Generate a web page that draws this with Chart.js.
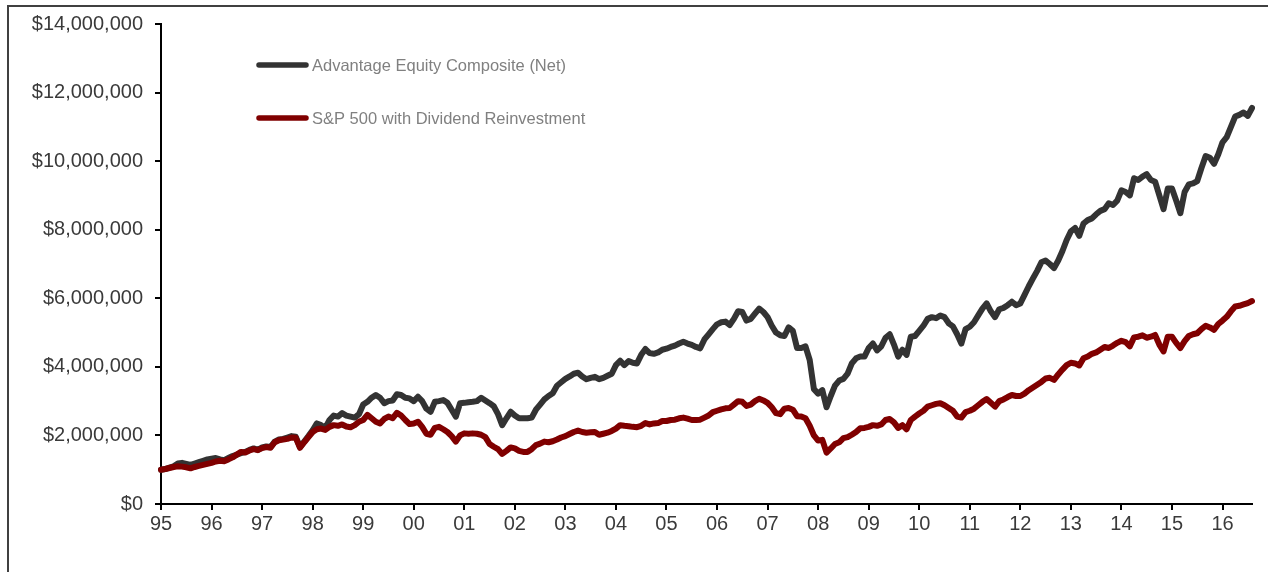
<!DOCTYPE html>
<html>
<head>
<meta charset="utf-8">
<script src="https://cdn.jsdelivr.net/npm/chart.js@4/dist/chart.umd.min.js"></script>
<style>
  html, body { margin: 0; padding: 0; background: #fff; overflow: hidden; }
  #wrap { position: relative; width: 1268px; height: 572px; overflow: hidden; }
  #frame { position: absolute; left: 7px; top: 5px; width: 1320px; height: 640px;
           border: 2px solid #404040; box-sizing: border-box; }
  #c { position: absolute; left: 0; top: 0; }
</style>
</head>
<body>
<div id="wrap">
  <div id="frame"></div>
  <canvas id="c" width="1268" height="572"></canvas>
</div>
<script>
// Growth of $1,000,000, month-end values in $ millions (Dec 1995 - Jul 2017)
const advantage = [
  1.00, 1.02, 1.06, 1.10, 1.18, 1.20, 1.17, 1.14, 1.18, 1.22, 1.26, 1.30,
  1.32, 1.34, 1.30, 1.28, 1.34, 1.40, 1.44, 1.48, 1.52, 1.58, 1.62, 1.58,
  1.65, 1.68, 1.66, 1.82, 1.88, 1.90, 1.94, 1.98, 1.96, 1.66, 1.82, 1.98,
  2.15, 2.35, 2.30, 2.22, 2.45, 2.58, 2.55, 2.65, 2.58, 2.55, 2.52, 2.62,
  2.90, 2.98, 3.10, 3.18, 3.10, 2.94, 3.00, 3.02, 3.20, 3.18, 3.10, 3.08,
  3.00, 3.13, 3.00, 2.78, 2.69, 2.98, 3.00, 3.03, 2.95, 2.75, 2.55, 2.94,
  2.95, 2.97, 2.98, 3.00, 3.10, 3.02, 2.94, 2.85, 2.62, 2.30, 2.50, 2.69,
  2.58, 2.50, 2.50, 2.50, 2.52, 2.75, 2.90, 3.05, 3.15, 3.23, 3.45, 3.55,
  3.65, 3.72, 3.80, 3.83, 3.72, 3.64, 3.68, 3.71, 3.64, 3.68, 3.74, 3.80,
  4.05, 4.18, 4.05, 4.17, 4.12, 4.10, 4.35, 4.52, 4.40, 4.38, 4.42, 4.50,
  4.53, 4.58, 4.62, 4.68, 4.73, 4.68, 4.64, 4.58, 4.54, 4.80, 4.95, 5.10,
  5.24, 5.30, 5.32, 5.22, 5.40, 5.62, 5.60, 5.35, 5.40, 5.55, 5.70, 5.60,
  5.45, 5.20, 5.00, 4.92, 4.90, 5.15, 5.05, 4.55, 4.55, 4.60, 4.20, 3.35,
  3.22, 3.32, 2.82, 3.15, 3.45, 3.60, 3.65, 3.80, 4.10, 4.25, 4.30, 4.30,
  4.55, 4.68, 4.48, 4.60, 4.85, 4.95, 4.65, 4.30, 4.50, 4.35, 4.88, 4.90,
  5.05, 5.20, 5.40, 5.45, 5.42, 5.50, 5.45, 5.27, 5.18, 4.95, 4.68, 5.10,
  5.17, 5.30, 5.50, 5.70, 5.85, 5.62, 5.45, 5.68, 5.72, 5.80, 5.90, 5.80,
  5.85, 6.10, 6.35, 6.58, 6.80, 7.05, 7.10, 7.00, 6.88, 7.10, 7.38, 7.70,
  7.95, 8.05, 7.82, 8.18, 8.28, 8.33, 8.45, 8.55, 8.60, 8.77, 8.72, 8.85,
  9.15, 9.10, 9.00, 9.50, 9.45, 9.55, 9.62, 9.45, 9.40, 9.00, 8.60, 9.20,
  9.20, 8.85, 8.48, 9.10, 9.32, 9.35, 9.42, 9.80, 10.15, 10.10, 9.92, 10.20,
  10.55, 10.70, 11.00, 11.30, 11.35, 11.42, 11.32, 11.55
];

const sp500 = [
  1.00, 1.02, 1.05, 1.08, 1.10, 1.09, 1.07, 1.04, 1.08, 1.11, 1.14, 1.17,
  1.20, 1.24, 1.26, 1.25, 1.30, 1.36, 1.44, 1.52, 1.50, 1.56, 1.60, 1.57,
  1.63, 1.66, 1.64, 1.80, 1.86, 1.88, 1.90, 1.94, 1.93, 1.64, 1.80, 1.95,
  2.10, 2.18, 2.20, 2.16, 2.25, 2.30, 2.28, 2.32, 2.26, 2.24, 2.30, 2.40,
  2.45, 2.60, 2.50, 2.40, 2.35, 2.48, 2.55, 2.50, 2.66, 2.58, 2.45, 2.33,
  2.35, 2.40, 2.25, 2.05, 2.02, 2.22, 2.25, 2.18, 2.10, 1.98, 1.82, 2.00,
  2.06, 2.05, 2.06, 2.05, 2.02, 1.95, 1.75, 1.67, 1.60, 1.46, 1.55, 1.65,
  1.62, 1.55, 1.52, 1.52, 1.60, 1.72, 1.76, 1.82, 1.80, 1.83, 1.88, 1.94,
  1.98, 2.04, 2.10, 2.14, 2.10, 2.08, 2.09, 2.10, 2.02, 2.05, 2.08, 2.13,
  2.20, 2.30, 2.28, 2.27, 2.25, 2.24, 2.28, 2.36, 2.32, 2.35, 2.36, 2.42,
  2.42, 2.45, 2.46, 2.50, 2.52, 2.49, 2.45, 2.45, 2.46, 2.52, 2.58, 2.68,
  2.72, 2.76, 2.79, 2.80, 2.90, 3.00, 2.98, 2.86, 2.90, 3.00, 3.07, 3.02,
  2.95, 2.82, 2.65, 2.62, 2.78, 2.80, 2.75, 2.56, 2.55, 2.50, 2.28, 2.00,
  1.85, 1.87, 1.50, 1.62, 1.75, 1.80, 1.92, 1.95, 2.02, 2.10, 2.21, 2.22,
  2.25, 2.30, 2.28, 2.32, 2.45, 2.48, 2.38, 2.22, 2.30, 2.18, 2.45, 2.55,
  2.64, 2.72, 2.84, 2.88, 2.92, 2.94, 2.88, 2.80, 2.72, 2.55, 2.52, 2.68,
  2.72, 2.78, 2.88, 2.98, 3.06, 2.95, 2.84, 3.00, 3.05, 3.12, 3.18, 3.15,
  3.15, 3.22, 3.32, 3.40, 3.48, 3.56, 3.66, 3.68, 3.62, 3.78, 3.92, 4.05,
  4.12, 4.10, 4.04, 4.25, 4.30, 4.38, 4.42, 4.50, 4.58, 4.55, 4.62, 4.70,
  4.76, 4.72, 4.60, 4.86, 4.88, 4.92, 4.85, 4.88, 4.93, 4.65, 4.45, 4.88,
  4.88, 4.70, 4.55, 4.75, 4.90, 4.95, 4.98, 5.10, 5.20, 5.15, 5.08, 5.25,
  5.35, 5.46, 5.62, 5.76, 5.78, 5.82, 5.86, 5.92
];

// Year markers, one every 12 months starting at the first point
const yearTicks = ['95','96','97','98','99','00','01','02','03','04','05',
                   '06','07','08','09','10','11','12','13','14','15','16'];

const seriesNames = ['Advantage Equity Composite (Net)', 'S&P 500 with Dividend Reinvestment'];
const seriesColors = ['#333333', '#800000'];

// Month labels for the category axis
const months = advantage.map((_, i) => {
  const d = new Date(1995, 11 + i, 1);
  return d.toLocaleString('en-US', { month: 'short' }) + ' ' + d.getFullYear();
});

const fontFamily = "'Liberation Sans', Arial, Helvetica, sans-serif";
const axisFont = { family: fontFamily, size: 20 };
const textColor = '#3a3a3a';

// Legend drawn as short thick line samples with grey captions
const lineLegend = {
  id: 'lineLegend',
  afterDraw(chart, args, opts) {
    const ctx = chart.ctx;
    chart.data.datasets.forEach((ds, i) => {
      const y = opts.top + i * opts.gap;
      ctx.save();
      ctx.strokeStyle = ds.borderColor;
      ctx.lineWidth = opts.lineWidth;
      ctx.lineCap = 'round';
      ctx.beginPath();
      ctx.moveTo(opts.left, y);
      ctx.lineTo(opts.left + opts.lineLength, y);
      ctx.stroke();
      ctx.fillStyle = opts.color;
      ctx.font = opts.font;
      ctx.textAlign = 'left';
      ctx.textBaseline = 'middle';
      ctx.fillText(ds.label, opts.left + opts.lineLength + opts.textGap, y + 1);
      ctx.restore();
    });
  }
};

const toDollars = arr => arr.map(v => Math.round(v * 1e6));

new Chart(document.getElementById('c'), {
  type: 'line',
  data: {
    labels: months,
    datasets: [
      { label: seriesNames[0], data: toDollars(advantage), borderColor: seriesColors[0],
        backgroundColor: seriesColors[0], borderWidth: 6, order: 1 },
      { label: seriesNames[1], data: toDollars(sp500), borderColor: seriesColors[1],
        backgroundColor: seriesColors[1], borderWidth: 6, order: 0 }
    ]
  },
  options: {
    responsive: false,
    animation: false,
    devicePixelRatio: 1,
    layout: { padding: { left: 0, right: 16, top: 24, bottom: 0 } },
    elements: {
      point: { radius: 0, hoverRadius: 0 },
      line: { tension: 0, borderJoinStyle: 'round', borderCapStyle: 'round' }
    },
    plugins: {
      legend: { display: false },
      tooltip: { enabled: false },
      lineLegend: {
        left: 259, top: 65, gap: 53, lineLength: 47, lineWidth: 5.5, textGap: 6,
        color: '#808080', font: "16.5px " + fontFamily
      }
    },
    scales: {
      x: {
        type: 'category',
        offset: false,
        grid: { drawOnChartArea: false, drawTicks: true, tickLength: 6, color: '#000', lineWidth: 2 },
        border: { display: true, color: '#000', width: 2 },
        ticks: {
          autoSkip: false, maxRotation: 0, minRotation: 0, padding: 2,
          color: textColor, font: axisFont,
          callback: (v, i) => (i % 12 === 0 ? yearTicks[i / 12] : null)
        },
        afterFit: s => { s.height = 68; }
      },
      y: {
        min: 0, max: 14000000,
        grid: { drawOnChartArea: false, drawTicks: true, tickLength: 6, color: '#000', lineWidth: 2 },
        border: { display: true, color: '#000', width: 2 },
        ticks: {
          stepSize: 2000000, padding: 12, color: textColor, font: axisFont,
          callback: v => '$' + Number(v).toLocaleString('en-US')
        },
        afterFit: s => { s.width = 161; }
      }
    }
  },
  plugins: [lineLegend]
});
</script>
</body>
</html>
